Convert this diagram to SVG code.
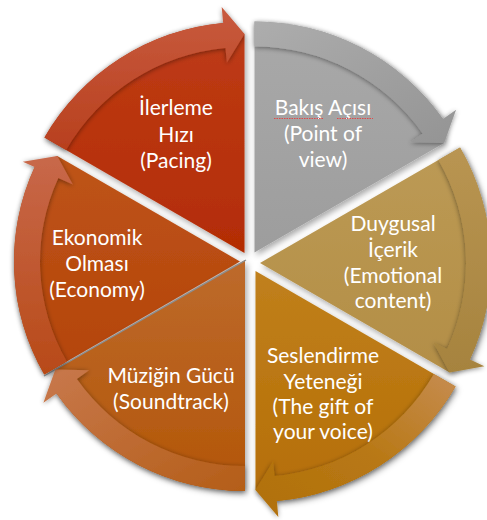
<svg xmlns="http://www.w3.org/2000/svg" width="487" height="520" viewBox="0 0 487 520">
<style>
.t{font-family:"Lato","Open Sans",sans-serif;font-size:21px;fill:#fff;text-anchor:middle}
.body{filter:url(#ws)}
.band{filter:url(#bs)}
.sq{stroke:#e04848;stroke-width:1;fill:none;stroke-dasharray:1.5 1}
</style>
<defs>
<filter id="ws" x="-20%" y="-20%" width="140%" height="140%"><feDropShadow dx="2" dy="3" stdDeviation="3" flood-color="#000" flood-opacity="0.35"/></filter>
<filter id="bs" x="-20%" y="-20%" width="140%" height="140%"><feDropShadow dx="0" dy="1" stdDeviation="2.5" flood-color="#000" flood-opacity="0.45"/></filter>
<linearGradient id="g1" x1="0" y1="0" x2="0" y2="1"><stop offset="0" stop-color="#BE3C16"/><stop offset="1" stop-color="#B32C05"/></linearGradient>
<linearGradient id="g2" x1="0" y1="0" x2="0" y2="1"><stop offset="0" stop-color="#A9A9A9"/><stop offset="1" stop-color="#9D9D9D"/></linearGradient>
<linearGradient id="g3" x1="0" y1="0" x2="0" y2="1"><stop offset="0" stop-color="#BC9A55"/><stop offset="1" stop-color="#B38E46"/></linearGradient>
<linearGradient id="g4" x1="0" y1="0" x2="0" y2="1"><stop offset="0" stop-color="#C0801C"/><stop offset="1" stop-color="#B56E06"/></linearGradient>
<linearGradient id="g5" x1="0" y1="0" x2="0" y2="1"><stop offset="0" stop-color="#BD6A2C"/><stop offset="1" stop-color="#B35608"/></linearGradient>
<linearGradient id="g6" x1="0" y1="0" x2="0" y2="1"><stop offset="0" stop-color="#BE5418"/><stop offset="1" stop-color="#B4440A"/></linearGradient>
<linearGradient id="b1" x1="0" y1="0" x2="0" y2="1"><stop offset="0" stop-color="#C85A3E"/><stop offset="1" stop-color="#B8401E"/></linearGradient>
<linearGradient id="b2" x1="0" y1="0" x2="1" y2="1"><stop offset="0" stop-color="#ADADAD"/><stop offset="1" stop-color="#949494"/></linearGradient>
<linearGradient id="b3" x1="0" y1="0" x2="0" y2="1"><stop offset="0" stop-color="#B99552"/><stop offset="1" stop-color="#A6833E"/></linearGradient>
<linearGradient id="b4" x1="1" y1="0" x2="0" y2="1"><stop offset="0" stop-color="#C68C50"/><stop offset="0.5" stop-color="#B87814"/><stop offset="1" stop-color="#B0700C"/></linearGradient>
<linearGradient id="b5" x1="1" y1="1" x2="0" y2="0"><stop offset="0" stop-color="#B45E18"/><stop offset="1" stop-color="#C8784C"/></linearGradient>
<linearGradient id="b6" x1="0" y1="1" x2="0" y2="0"><stop offset="0" stop-color="#B84A18"/><stop offset="1" stop-color="#C8684A"/></linearGradient>
</defs>
<rect width="487" height="520" fill="#fff"/>

<g id="node-ilerleme">
<path class="body" fill="url(#g1)" d="M244.5,253 L44.45,137.5 A231,231 0 0 1 223.16,22.99 L244.5,34 Z"/>
<text class="t" x="176" y="115">İlerleme</text>
<text class="t" x="176" y="141.5">Hızı</text>
<text class="t" x="176" y="168">(Pacing)</text>
</g>

<g id="node-bakis">
<path class="body" fill="url(#g2)" d="M254.5,252.5 L254.5,21.5 A231,231 0 0 1 443.03,119.01 L444.15,143 Z"/>
<text class="t" x="323" y="115">Bakış Açısı</text>
<text class="t" x="323" y="141">(Point of</text>
<text class="t" x="323" y="167">view)</text>
<path class="sq" d="M274,118.5 H324 M337,118.5 H373"/>
</g>

<g id="node-duygusal">
<path class="body" fill="url(#g3)" d="M260,263 L460.05,147.5 A231,231 0 0 1 469.87,359.53 L449.65,372.5 Z"/>
<text class="t" x="393" y="231">Duygusal</text>
<text class="t" x="393" y="257">İçerik</text>
<text class="t" x="393" y="283">(Emotional</text>
<text class="t" x="393" y="308">content)</text>
</g>

<g id="node-seslendirme">
<path class="body" fill="url(#g4)" d="M255.5,271 L455.55,386.5 A231,231 0 0 1 276.84,501.01 L255.5,490 Z"/>
<text class="t" x="323" y="363">Seslendirme</text>
<text class="t" x="323" y="388.5">Yeteneği</text>
<text class="t" x="323" y="414">(The gift of</text>
<text class="t" x="323" y="439">your voice)</text>
</g>

<g id="node-ekonomik">
<path class="body" fill="url(#g6)" d="M240,261.5 L44.28,374.5 A226,226 0 0 1 34.67,167.06 L57.27,156 Z"/>
<text class="t" x="97" y="245">Ekonomik</text>
<text class="t" x="97" y="271">Olması</text>
<text class="t" x="97" y="297">(Economy)</text>
</g>

<g id="node-muzigin">
<path class="body" fill="url(#g5)" d="M245,260 L245,491 A231,231 0 0 1 56.47,393.49 L55.35,369.5 Z"/>
<line x1="246" y1="260" x2="44" y2="376" stroke="#8A8F92" stroke-width="1.4"/>
<text class="t" x="171" y="383">Müziğin Gücü</text>
<text class="t" x="171" y="409">(Soundtrack)</text>
</g>

<g id="connectors">
<path class="band" fill="url(#b1)" d="M44.45,137.5 A231,231 0 0 1 223.16,22.99 L221.68,7.06 L244.5,34 L226.86,62.82 L225.47,47.88 A206,206 0 0 0 66.1,150 Z"/>
<path class="band" fill="url(#b2)" d="M254.5,21.5 A231,231 0 0 1 443.03,119.01 L456.09,109.77 L444.15,143 L410.38,142.13 L422.63,133.46 A206,206 0 0 0 254.5,46.5 Z"/>
<path class="band" fill="url(#b3)" d="M460.05,147.5 A231,231 0 0 1 469.87,359.53 L484.4,366.21 L449.65,372.5 L433.53,342.81 L447.16,349.08 A206,206 0 0 0 438.4,160 Z"/>
<path class="band" fill="url(#b4)" d="M455.55,386.5 A231,231 0 0 1 276.84,501.01 L278.32,516.94 L255.5,490 L273.14,461.18 L274.53,476.12 A206,206 0 0 0 433.9,374 Z"/>
<path class="band" fill="url(#b5)" d="M245,491 A231,231 0 0 1 56.47,393.49 L43.41,402.73 L55.35,369.5 L89.12,370.37 L76.87,379.04 A206,206 0 0 0 245,466 Z"/>
<path class="band" fill="url(#b6)" d="M44.28,374.5 A226,226 0 0 1 34.67,167.06 L22.86,161.63 L57.27,156 L72.83,184.61 L58.3,177.93 A200,200 0 0 0 66.8,361.5 Z"/>
</g>
</svg>
